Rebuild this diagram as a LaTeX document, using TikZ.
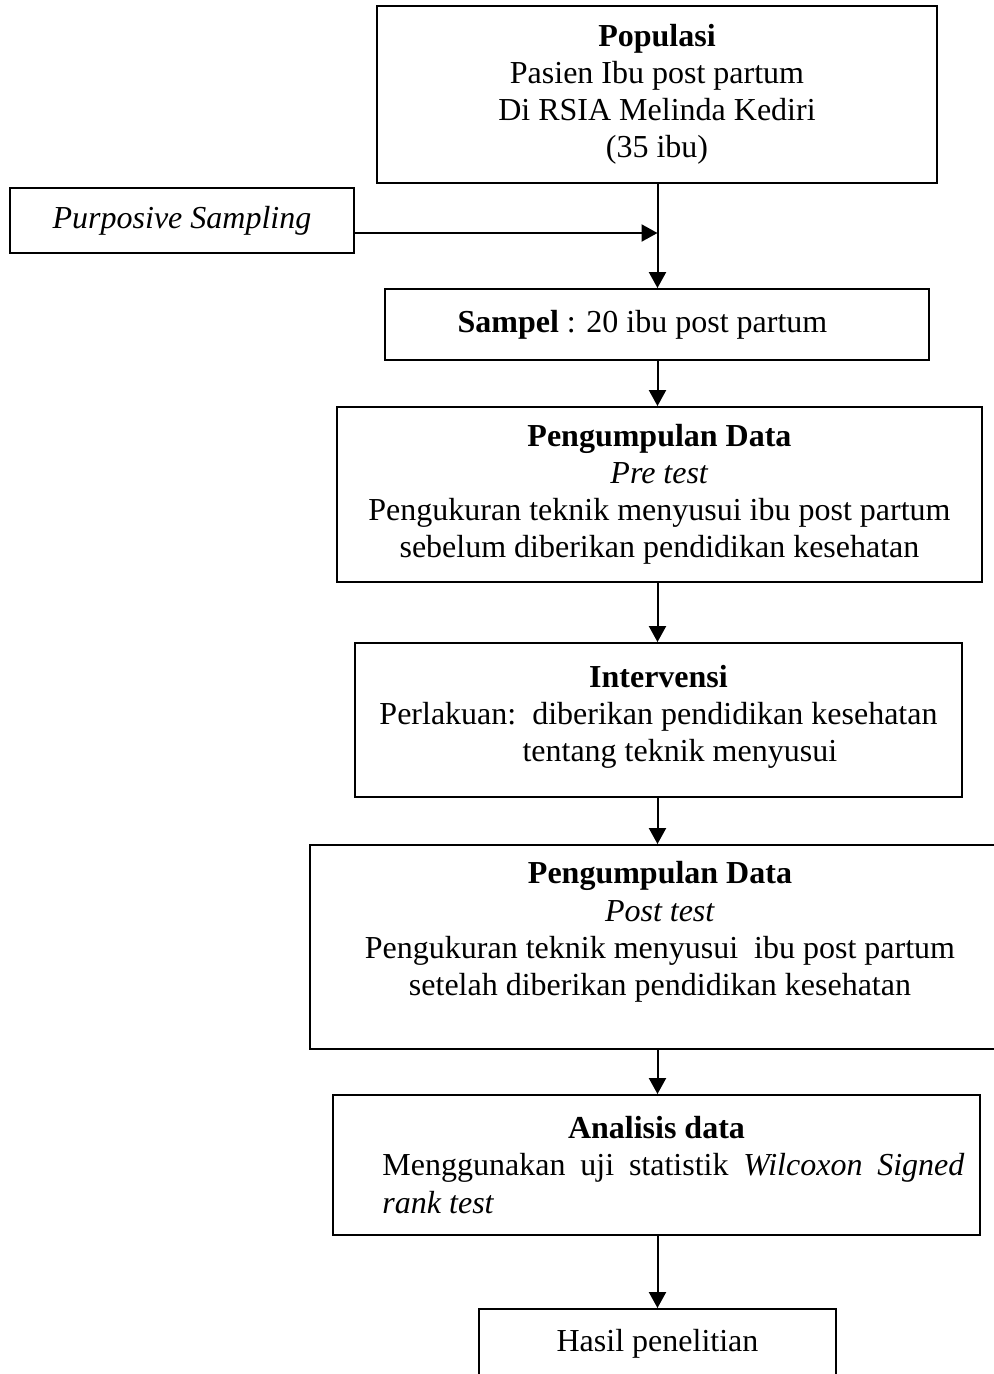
\documentclass[tikz,border=0pt]{standalone}
\usepackage{fontspec}
\setmainfont{Liberation Serif}
\usetikzlibrary{arrows.meta}

\tikzset{
  kotak/.style={draw, line width=0.75pt, align=center, inner sep=0pt,
    font=\fontsize{12}{13.9}\selectfont},
  panah/.style={line width=0.75pt, -{Triangle[length=6pt,width=6.4pt]}}
}

\begin{document}
\begin{tikzpicture}[x=0.375pt,y=-0.375pt]
                \useasboundingbox (0,0) rectangle (994,1374);

                % Drawing box Populasi
                \node [kotak, minimum width=210pt, minimum height=66.4pt] (populasi) at (657,94.5)
                  {\textbf{Populasi}\\ Pasien Ibu post partum\\ Di RSIA Melinda Kediri\\ (35 ibu)};%

                % Drawing box Purposive Sampling
                \node [kotak, minimum width=129pt, minimum height=24.4pt] (purposive) at (182,220.5)
                  {\textit{Purposive Sampling}};%

                % Drawing box Sampel
                \node [kotak, minimum width=204pt, minimum height=26.6pt] (sampel) at (657,324.5)
                  {\textbf{Sampel} : 20 ibu post partum\hspace*{10.9pt}};%

                % Drawing box Pre test
                \node [kotak, minimum width=241.9pt, minimum height=65.6pt] (pretest) at (659.5,494.5)
                  {\textbf{Pengumpulan Data}\\ \textit{Pre test}\\
                   Pengukuran teknik menyusui ibu post partum\\ sebelum diberikan pendidikan kesehatan};%

                % Drawing box Intervensi
                \node [kotak, minimum width=227.6pt, minimum height=57.75pt] (intervensi) at (658.5,720)
                  {\textbf{Intervensi}\\ Perlakuan:\ \ diberikan pendidikan kesehatan\\
                   \hspace*{16pt}tentang teknik menyusui\\[-9pt]\mbox{}};%

                % Drawing box Post test (cut by the right edge)
                \node [kotak, minimum width=262.5pt, minimum height=76.5pt] (posttest) at (660,947)
                  {\textbf{Pengumpulan Data}\\ \textit{Post test}\\
                   Pengukuran teknik menyusui\ \ ibu post partum\\ setelah diberikan pendidikan kesehatan\\ \mbox{}};%

                % Drawing box Analisis data
                \node [kotak, align=justify, text width=231pt, minimum width=242.6pt, minimum height=52.5pt] (analisis) at (656.5,1165)
                  {\parindent=0pt{\centering\textbf{Analisis data}\par}%
                   {\leftskip=12.75pt
                   Menggunakan uji statistik \textit{Wilcoxon Signed}\linebreak \textit{rank test}\par}};%

                % Drawing box Hasil penelitian (cut by the bottom edge)
                \node [kotak, minimum width=133.9pt, minimum height=51pt] (hasil) at (657.5,1377)
                  {Hasil penelitian\\ \mbox{}\\ \mbox{}};%

                % Drawing connectors
                \coordinate (titik) at (657.5,233);%
                \draw [panah] (purposive.east |- titik) -- (titik);%
                \draw [panah] (populasi.south -| titik) -- (sampel.north -| titik);%
                \draw [panah] (sampel.south -| titik) -- (pretest.north -| titik);%
                \draw [panah] (pretest.south -| titik) -- (intervensi.north -| titik);%
                \draw [panah] (intervensi.south -| titik) -- (posttest.north -| titik);%
                \draw [panah] (posttest.south -| titik) -- (analisis.north -| titik);%
                \draw [panah] (analisis.south -| titik) -- (hasil.north -| titik);%
\end{tikzpicture}
\end{document}
